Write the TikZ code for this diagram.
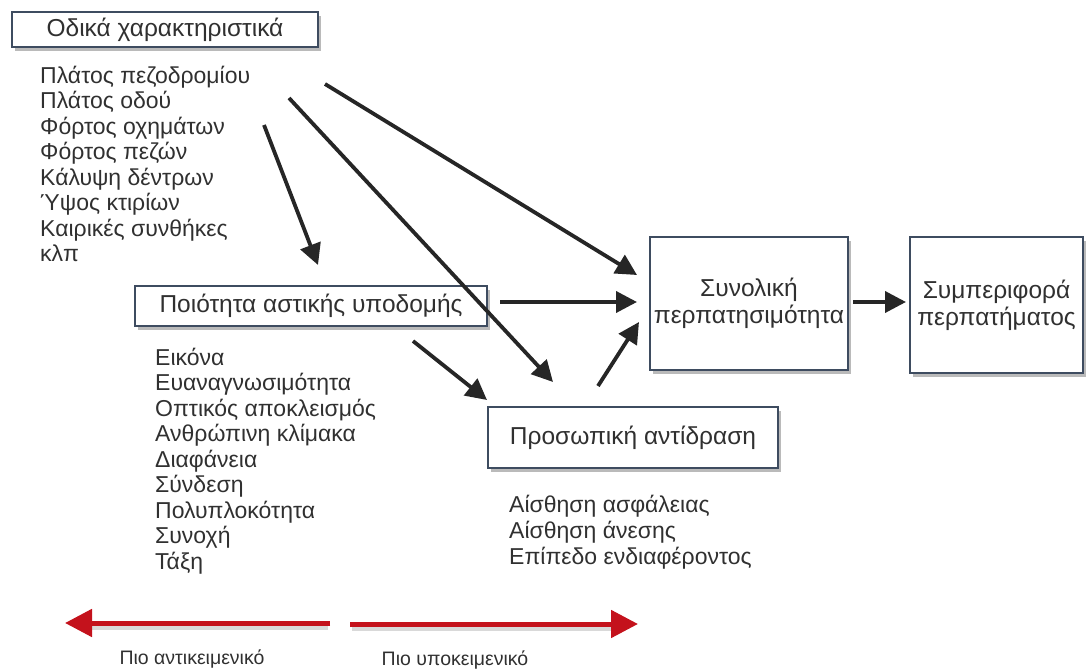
\documentclass[tikz,border=0pt]{standalone}
\usepackage{fontspec}
\setmainfont{Liberation Sans}
\usetikzlibrary{arrows.meta,shadows}

\definecolor{boxline}{HTML}{3E4C60}
\definecolor{txt}{HTML}{303030}
\definecolor{redarr}{HTML}{C4121C}

\tikzset{
  factorbox/.style={draw=boxline, line width=1.4pt, fill=white, text=txt,
    inner sep=0pt, align=center, font=\fontsize{24.5}{27}\selectfont,
    drop shadow={shadow xshift=3pt, shadow yshift=-4pt, opacity=0.45, fill=black!60}},
  itemlist/.style={anchor=north west, align=left, text=txt, inner sep=0pt,
    font=\fontsize{23}{25.5}\selectfont},
  flow/.style={line width=3.8pt, black!85, -{Triangle[length=21pt,width=21pt]}},
  redarrow/.style={line width=5pt, redarr, -{Triangle[length=27pt,width=27pt]}},
  redshadow/.style={line width=5pt, black!25, opacity=0.6},
  scalelabel/.style={text=txt, font=\fontsize{19.5}{22}\selectfont}
}

\begin{document}
\begin{tikzpicture}[x=1pt, y=-1pt]
    \useasboundingbox (0,0) rectangle (1088,671);

    % Κουτιά
    \node[factorbox, minimum width=306pt, minimum height=35pt] (road) at (165,29.5) {Οδικά χαρακτηριστικά};
    \node[factorbox, minimum width=352pt, minimum height=40pt] (urban) at (311,306) {Ποιότητα αστικής υποδομής};
    \node[factorbox, minimum width=290pt, minimum height=61pt] (personal) at (633,437.5) {Προσωπική αντίδραση};
    \node[factorbox, minimum width=198pt, minimum height=133pt] (walkability) at (749,303.5) {Συνολική\\περπατησιμότητα};
    \node[factorbox, minimum width=173pt, minimum height=136pt] (behaviour) at (996.5,305) {Συμπεριφορά\\περπατήματος};

    % Λίστες
    \node[itemlist] (roadlist) at (40,65.5) {Πλάτος πεζοδρομίου\\Πλάτος οδού\\Φόρτος οχημάτων\\Φόρτος πεζών\\Κάλυψη δέντρων\\Ύψος κτιρίων\\Καιρικές συνθήκες\\κλπ};
    \node[itemlist] (urbanlist) at (155,347.5) {Εικόνα\\Ευαναγνωσιμότητα\\Οπτικός αποκλεισμός\\Ανθρώπινη κλίμακα\\Διαφάνεια\\Σύνδεση\\Πολυπλοκότητα\\Συνοχή\\Τάξη};
    \node[itemlist, font=\fontsize{23}{26}\selectfont] (personallist) at (509,495) {Αίσθηση ασφάλειας\\Αίσθηση άνεσης\\Επίπεδο ενδιαφέροντος};

    % Άκρα βελών
    \coordinate (r1) at (325,84);
    \coordinate (r2) at (289,98);
    \coordinate (r3) at (264,125);
    \coordinate (u1) at (413,341);
    \coordinate (u2) at (500,302);
    \coordinate (w1) at (637,275);
    \coordinate (w2) at (637,302);
    \coordinate (w3) at (639,322);
    \coordinate (w4) at (853,302);
    \coordinate (b1) at (906,302);
    \coordinate (p1) at (553,382);
    \coordinate (p2) at (487,400);
    \coordinate (p3) at (598,386);

    % Βέλη
    \draw[flow] (r1) -- (w1);
    \draw[flow] (r2) -- (p1);
    \draw[flow] (r3) -- (318,265);
    \draw[flow] (u2) -- (w2);
    \draw[flow] (u1) -- (p2);
    \draw[flow] (p3) -- (w3);
    \draw[flow] (w4) -- (b1);

    % Κλίμακα
    \coordinate (mid1) at (330,623);
    \coordinate (mid2) at (350,624);
    \draw[redshadow] (328,627) -- (80,627);
    \draw[redshadow] (352,628) -- (625,628);
    \draw[redarrow] (mid1) -- (65,623);
    \draw[redarrow] (mid2) -- (638,624);
    \node[scalelabel] (objective) at (192,659) {Πιο αντικειμενικό};
    \node[scalelabel] (subjective) at (455,660) {Πιο υποκειμενικό};
\end{tikzpicture}
\end{document}
